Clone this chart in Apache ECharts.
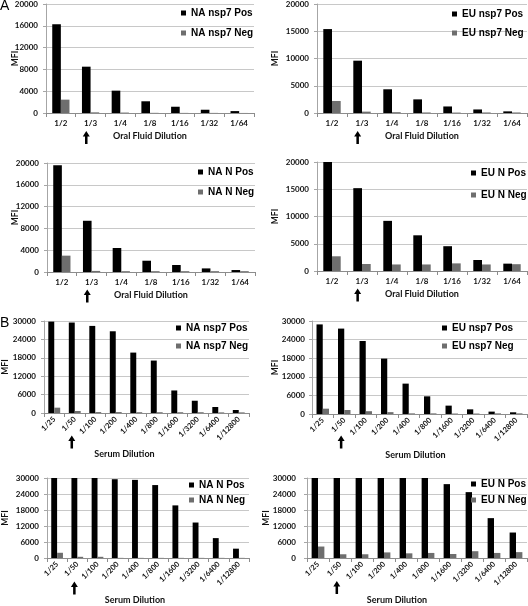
<!DOCTYPE html>
<html>
<head>
<meta charset="utf-8">
<script src="https://cdn.jsdelivr.net/npm/echarts@6/dist/echarts.min.js"></script>
<style>
html,body{margin:0;padding:0;background:#fff;}
#chart{width:528px;height:606px;}
</style>
</head>
<body>
<div id="chart"></div>
<script>
// ---- Categories ----
const oralCats = ['1/2','1/3','1/4','1/8','1/16','1/32','1/64'];
const serumCats = ['1/25','1/50','1/100','1/200','1/400','1/800','1/1600','1/3200','1/6400','1/12800'];

// ---- Series values (MFI) ----
const naNsp7OralPos = [16300, 8500, 4100, 2150, 1150, 600, 350];
const naNsp7OralNeg = [2450, 120, 80, 30, 20, 20, 10];
const euNsp7OralPos = [15400, 9600, 4350, 2500, 1200, 650, 300];
const euNsp7OralNeg = [2200, 250, 150, 100, 80, 100, 100];
const naNOralPos = [19600, 9400, 4400, 2070, 1280, 660, 360];
const naNOralNeg = [3000, 200, 150, 150, 150, 150, 150];
const euNOralPos = [20000, 15200, 9200, 6550, 4550, 2020, 1350];
const euNOralNeg = [2700, 1290, 1200, 1200, 1400, 1200, 1250];
const naNsp7SerumPos = [29800, 29500, 28400, 26650, 19700, 17100, 7350, 4000, 1950, 980];
const naNsp7SerumNeg = [1740, 650, 300, 300, 250, 250, 250, 250, 200, 200];
const euNsp7SerumPos = [28900, 27550, 23550, 17870, 9800, 5700, 2700, 1500, 770, 550];
const euNsp7SerumNeg = [1720, 1300, 900, 600, 200, 200, 150, 150, 200, 200];
const naNSerumPos = [30000, 30000, 30000, 29550, 29300, 27350, 19730, 13300, 7460, 3500];
const naNSerumNeg = [1960, 450, 450, 50, 50, 50, 50, 50, 50, 50];
const euNSerumPos = [30000, 30000, 30000, 30000, 30000, 30000, 27700, 24700, 14950, 9550];
const euNSerumNeg = [4300, 1400, 1400, 2100, 1750, 1900, 1500, 2550, 1900, 2200];

// ---- Axis scales (max, interval) ----
const oralScaleA = [20000, 4000];
const oralScaleB = [20000, 5000];
const serumScale = [30000, 6000];

// ---- Texts ----
const oralAxisTitle = 'Oral Fluid Dilution';
const serumAxisTitle = 'Serum Dilution';
const panelLetters = ['A', 'B'];

const panels = [
  {cats: oralCats, pos: naNsp7OralPos, neg: naNsp7OralNeg, names: ['NA nsp7 Pos','NA nsp7 Neg'], scale: oralScaleA, xName: oralAxisTitle, arrow: 1},
  {cats: oralCats, pos: euNsp7OralPos, neg: euNsp7OralNeg, names: ['EU nsp7 Pos','EU nsp7 Neg'], scale: oralScaleB, xName: oralAxisTitle, arrow: 1},
  {cats: oralCats, pos: naNOralPos, neg: naNOralNeg, names: ['NA N Pos','NA N Neg'], scale: oralScaleA, xName: oralAxisTitle, arrow: 1},
  {cats: oralCats, pos: euNOralPos, neg: euNOralNeg, names: ['EU N Pos','EU N Neg'], scale: oralScaleB, xName: oralAxisTitle, arrow: 1},
  {cats: serumCats, pos: naNsp7SerumPos, neg: naNsp7SerumNeg, names: ['NA nsp7 Pos','NA nsp7 Neg'], scale: serumScale, xName: serumAxisTitle, arrow: 1},
  {cats: serumCats, pos: euNsp7SerumPos, neg: euNsp7SerumNeg, names: ['EU nsp7 Pos','EU nsp7 Neg'], scale: serumScale, xName: serumAxisTitle, arrow: 1},
  {cats: serumCats, pos: naNSerumPos, neg: naNSerumNeg, names: ['NA N Pos','NA N Neg'], scale: serumScale, xName: serumAxisTitle, arrow: 1},
  {cats: serumCats, pos: euNSerumPos, neg: euNSerumNeg, names: ['EU N Pos','EU N Neg'], scale: serumScale, xName: serumAxisTitle, arrow: 1}
];

// ---- Layout (pixels) ----
const layout = [
  {grid:{left:46, right:274, top:4, height:109},  legend:{left:181, top:7, gap:8},   ylm:8,  mfiGap:26, xnGap:19, xnShift:0,  arrowOff:24.5, serum:false},
  {grid:{left:317, right:1, top:4, height:109},   legend:{left:452, top:8, gap:7},   ylm:8,  mfiGap:37, xnGap:19, xnShift:0,  arrowOff:24.5, serum:false},
  {grid:{left:47, right:273, top:163, height:109},legend:{left:198, top:166, gap:8}, ylm:8,  mfiGap:27, xnGap:19, xnShift:0,  arrowOff:24, serum:false},
  {grid:{left:317, right:1, top:162, height:109}, legend:{left:471, top:167, gap:10},ylm:8,  mfiGap:37, xnGap:19, xnShift:0,  arrowOff:24, serum:false},
  {grid:{left:43, right:279, top:321, height:92}, legend:{left:176, top:322, gap:6}, ylm:8,  mfiGap:34, xnGap:37, xnShift:44, arrowOff:29, serum:true},
  {grid:{left:312, right:1, top:321, height:93},  legend:{left:442, top:322, gap:6}, ylm:7,  mfiGap:32, xnGap:37, xnShift:8,  arrowOff:28, serum:true},
  {grid:{left:44, right:279, top:478, height:85},  legend:{left:189, top:479, gap:3}, ylm:8,  mfiGap:37, xnGap:38, xnShift:26, arrowOff:30, serum:true},
  {grid:{left:307, right:1, top:478, height:86},  legend:{left:471, top:478, gap:4}, ylm:11, mfiGap:36, xnGap:38, xnShift:40, arrowOff:29.5, serum:true}
];

const tickFont = 'Lato, "Open Sans", sans-serif';
const legendFont = '"Liberation Sans", Arial, sans-serif';
const arrowPath = 'path://M5,0 L10,6 L6.8,6 L6.8,14 L3.2,14 L3.2,6 L0,6 Z';

const grids = [], xAxes = [], yAxes = [], series = [], legends = [];

panels.forEach((p, i) => {
  const L = layout[i];
  grids.push(Object.assign({containLabel: false}, L.grid));
  xAxes.push({
    type: 'category', gridIndex: i, data: p.cats,
    name: p.xName, nameLocation: 'middle', nameGap: L.xnGap, nameMoveOverlap: false,
    nameTextStyle: {fontFamily: tickFont, fontWeight: 'bold', fontSize: 9, color: '#111',
      padding: [0, L.xnShift, 0, 0]},
    axisLine: {lineStyle: {color: '#8c8c8c', width: 1}},
    axisTick: {show: true, length: 4, lineStyle: {color: '#8c8c8c'}},
    axisLabel: {fontFamily: tickFont, fontWeight: 'bold', fontSize: L.serum ? 7.5 : 8, color: '#111',
      interval: 0, rotate: L.serum ? 45 : 0, margin: L.serum ? 5 : 6},
    splitLine: {show: false}
  });
  yAxes.push({
    type: 'value', gridIndex: i, min: 0, max: p.scale[0], interval: p.scale[1],
    name: 'MFI', nameLocation: 'middle', nameRotate: 90, nameGap: L.mfiGap, nameMoveOverlap: false,
    nameTextStyle: {fontFamily: tickFont, fontWeight: 'bold', fontSize: 8.5, color: '#111'},
    axisLine: {show: true, lineStyle: {color: '#a6a6a6'}},
    axisTick: {show: true, length: 3, lineStyle: {color: '#a6a6a6'}},
    axisLabel: {fontFamily: tickFont, fontWeight: 'bold', fontSize: 8, color: '#111', margin: L.ylm,
      formatter: v => String(v)},
    splitLine: {show: true, lineStyle: {color: '#c8c8c8', width: 1}}
  });
  series.push({
    type: 'bar', name: p.names[0], xAxisIndex: i, yAxisIndex: i, data: p.pos,
    itemStyle: {color: '#000000'}, barGap: '0%', barCategoryGap: '42%', clip: false,
    markPoint: {
      symbol: arrowPath, symbolSize: [7, 13], symbolOffset: [0, L.arrowOff], silent: true,
      itemStyle: {color: '#000'}, label: {show: false},
      data: [{coord: [p.arrow, 0]}]
    }
  });
  series.push({
    type: 'bar', name: p.names[1], xAxisIndex: i, yAxisIndex: i, data: p.neg,
    itemStyle: {color: '#6e6e6e'}, barGap: '0%', barCategoryGap: '42%'
  });
  legends.push({
    data: p.names, orient: 'vertical', left: L.legend.left, top: L.legend.top,
    itemGap: L.legend.gap, padding: 0, icon: 'rect', itemWidth: 5, itemHeight: 5,
    selectedMode: false,
    textStyle: {fontFamily: legendFont, fontWeight: 'bold', fontSize: 10, color: '#000', lineHeight: 12}
  });
});

const chart = echarts.init(document.getElementById('chart'), null, {renderer: 'canvas'});
chart.setOption({
  animation: false,
  backgroundColor: '#ffffff',
  title: [
    {text: panelLetters[0], left: 0, top: -1, padding: 0,
      textStyle: {fontFamily: legendFont, fontWeight: 'normal', fontSize: 14, color: '#000'}},
    {text: panelLetters[1], left: 0, top: 316, padding: 0,
      textStyle: {fontFamily: legendFont, fontWeight: 'normal', fontSize: 14, color: '#000'}}
  ],
  grid: grids, xAxis: xAxes, yAxis: yAxes, series: series, legend: legends
});
</script>
</body>
</html>
